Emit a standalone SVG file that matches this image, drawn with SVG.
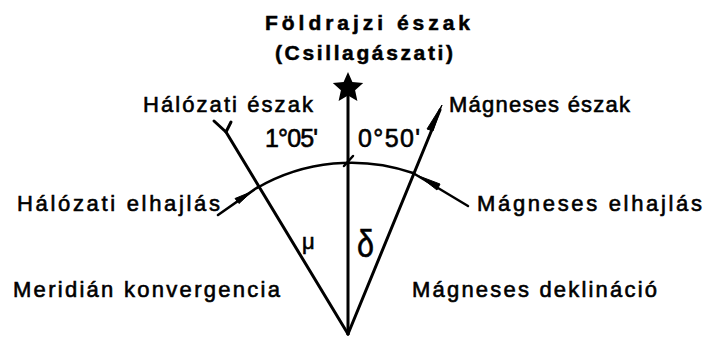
<svg xmlns="http://www.w3.org/2000/svg" width="705" height="338" viewBox="0 0 705 338">
<style>
.t{font-family:"Liberation Sans",Arial,sans-serif;font-size:22px;fill:#000;stroke:#000;stroke-width:0.6}
.b{font-weight:bold;font-size:21px;stroke-width:0.5}
.ln{stroke:#000;stroke-width:3;fill:none;stroke-linecap:round;stroke-linejoin:round}
.th{stroke:#000;stroke-width:2.5;fill:none;stroke-linecap:round}
.ah{fill:#000;stroke:#000;stroke-width:1;stroke-linejoin:round}
</style>
<rect width="705" height="338" fill="#fff"/>
<g id="connectors">
  <line class="ln" x1="348" y1="95" x2="348" y2="334"/>
  <line class="ln" x1="348" y1="334" x2="226" y2="132"/>
  <polyline class="ln" points="214,121 226,132 231,122"/>
  <line class="ln" x1="348" y1="334" x2="440" y2="110"/>
  <polygon class="ah" points="442,105 433,131 427,129"/>
  <path class="th" d="M257,188 A189,189 0 0 1 413,173"/>
  <line class="th" x1="344" y1="166" x2="353" y2="156"/>
  <line class="th" x1="218" y1="215" x2="258" y2="187"/>
  <polygon class="ah" points="252,191.5 239,203.5 235,198.5"/>
  <line class="th" x1="413" y1="173" x2="468" y2="206"/>
  <polygon class="ah" points="419,176 440,184 437,190"/>
</g>
<g id="star">
  <polygon fill="#000" points="348,72 352.4,81.9 363.2,83.1 355.1,90.3 357.4,100.9 348,95.5 338.6,100.9 340.9,90.3 332.8,83.1 343.6,81.9"/>
</g>
<g id="foldrajzi-eszak">
  <text class="t b" x="265" y="30" textLength="205" lengthAdjust="spacing">Földrajzi észak</text>
  <text class="t b" x="275" y="60" textLength="178" lengthAdjust="spacing">(Csillagászati)</text>
</g>
<g id="halozati-eszak">
  <text class="t" x="143" y="112" textLength="170" lengthAdjust="spacing">Hálózati észak</text>
</g>
<g id="magneses-eszak">
  <text class="t" x="449" y="112" textLength="181" lengthAdjust="spacing">Mágneses észak</text>
</g>
<g id="angle-left">
  <text class="t" x="265" y="147" style="font-size:25px" textLength="53" lengthAdjust="spacing">1°05'</text>
</g>
<g id="angle-right">
  <text class="t" x="358" y="147" style="font-size:25px" textLength="62" lengthAdjust="spacing">0°50'</text>
</g>
<g id="halozati-elhajlas">
  <text class="t" x="17" y="211" textLength="203" lengthAdjust="spacing">Hálózati elhajlás</text>
</g>
<g id="magneses-elhajlas">
  <text class="t" x="477" y="211" textLength="225" lengthAdjust="spacing">Mágneses elhajlás</text>
</g>
<g id="mu">
  <text class="t" x="302" y="249">μ</text>
</g>
<g id="delta">
  <text class="t" x="357" y="257" style="font-size:38px" textLength="17" lengthAdjust="spacingAndGlyphs">δ</text>
</g>
<g id="meridian-konvergencia">
  <text class="t" x="13" y="297" textLength="267" lengthAdjust="spacing">Meridián konvergencia</text>
</g>
<g id="magneses-deklinacio">
  <text class="t" x="412" y="297" textLength="245" lengthAdjust="spacing">Mágneses deklináció</text>
</g>
</svg>
